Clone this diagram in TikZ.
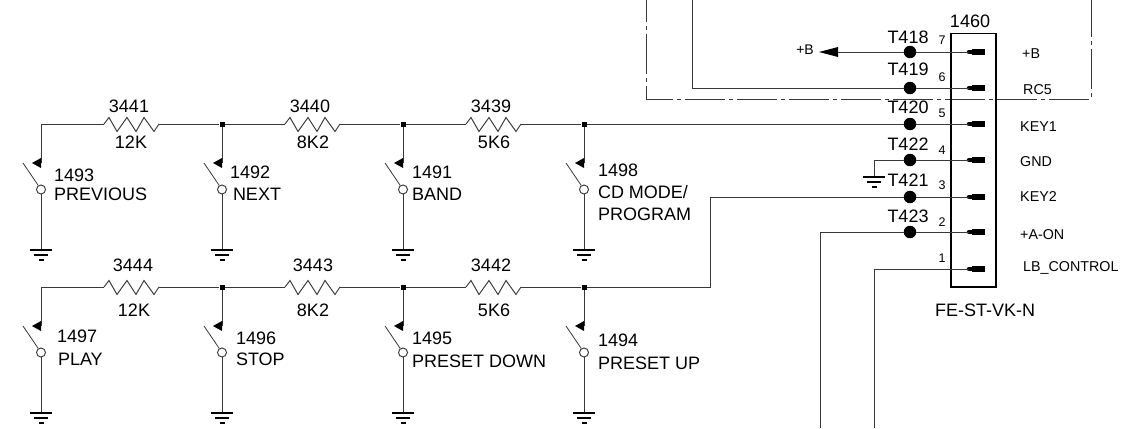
\documentclass[tikz,border=0pt]{standalone}
\usepackage{fontspec}
\setmainfont{Liberation Sans}
\usetikzlibrary{calc}
\tikzset{
  wire/.style={line width=0.95pt,draw=black!78},
  frame/.style={line width=0.95pt,draw=black!78,dash pattern=on 40pt off 4pt on 4pt off 4pt,dash phase=18pt},
  lbl/.style={inner sep=0pt,outer sep=0pt,text depth=0pt,font=\fontsize{18}{20}\selectfont},
  lblw/.style={lbl,anchor=west},
  pinno/.style={inner sep=0pt,text depth=0pt,font=\fontsize{12.5}{14}\selectfont},
  sig/.style={inner sep=0pt,text depth=0pt,anchor=west,font=\fontsize{14.3}{16}\selectfont},
  tp/.style={circle,fill=black,inner sep=0pt,minimum size=12.5pt},
  junc/.style={rectangle,fill=black,inner sep=0pt,minimum size=5pt},
  contact/.style={circle,draw=black!78,fill=white,line width=0.95pt,inner sep=0pt,minimum size=9pt},
  gndsym/.pic={
    \draw[line width=1.1pt] (-11,0) -- (11,0);
    \draw[line width=1.1pt] (-7,5) -- (7,5);
    \draw[line width=1.1pt] (-2.5,10) -- (2.5,10);
  },
  respath/.pic={
    \draw[wire] (0,0) -- (5,-6.5) -- (13,7.5) -- (23,-6.5) -- (32,7.5) -- (40,-6.5) -- (50,7.5) -- (55,0);
  }
}
\begin{document}
\begin{tikzpicture}[x=1pt,y=-1pt]
\useasboundingbox (0,0) rectangle (1134,428);

% outer dash-dot frame
\coordinate (fa) at (646,0);
\coordinate (fb) at (646,99);
\coordinate (fc) at (1091,99);
\coordinate (fd) at (1091,0);
\draw[frame] (fa) -- (fb) -- (fc) -- (fd);

% connector body
\node[draw=black,line width=1.5pt,inner sep=0pt,minimum width=45pt,minimum height=253.5pt] (conn) at (973.5,160.3) {};
\node[lbl] (n1460) at (970,21) {1460};
\node[lbl] (nfe) at (985,310) {FE-ST-VK-N};

% test points and pads
\foreach \nm/\yy in {a/52,b/88,c/124,d/160,e/197,f/232,g/269}{
  \coordinate (pad\nm) at (969,\yy);
  \draw[line width=4.5pt,line cap=round] (pad\nm) -- ++(5,0);
  \draw[line width=6.5pt] ($(pad\nm)+(3,0)$) -- ($(pad\nm)+(16,0)$);
}
\foreach \nm/\yy in {a/52,b/88,c/124,d/160,e/197,f/232}{
  \node[tp] (tp\nm) at (910,\yy) {};
  \draw[wire] (tp\nm) -- (pad\nm);
}
\node[lbl] (t418) at (908,37) {T418};
\node[lbl] (t419) at (908,69) {T419};
\node[lbl] (t420) at (908,107) {T420};
\node[lbl] (t422) at (908,144) {T422};
\node[lbl] (t421) at (908,180) {T421};
\node[lbl] (t423) at (908,216) {T423};

\node[pinno] (p7) at (942,40) {7};
\node[pinno] (p6) at (942,77) {6};
\node[pinno] (p5) at (942,113) {5};
\node[pinno] (p4) at (942,150) {4};
\node[pinno] (p3) at (942,185) {3};
\node[pinno] (p2) at (942,222) {2};
\node[pinno] (p1) at (942,258) {1};

\node[sig] (s7) at (1022,54) {+B};
\node[sig] (s6) at (1023,90) {RC5};
\node[sig] (s5) at (1020,127) {KEY1};
\node[sig] (s4) at (1020,162) {GND};
\node[sig] (s3) at (1020,197) {KEY2};
\node[sig] (s2) at (1020,235) {+A-ON};
\node[sig] (s1) at (1023,267) {LB\_CONTROL};

% +B flag
\node[pinno,font=\fontsize{14}{15}\selectfont] (bflag) at (805,50) {+B};
\coordinate (btip) at (819,52);
\draw[wire] (tpa) -- (838,52);
\fill (btip) -- (838,47) -- (838,57) -- cycle;

% RC5
\coordinate (rctop) at (692,0);
\draw[wire] (tpb) -| (rctop);

% GND on T422
\coordinate (g422) at (874,177);
\draw[wire] (tpd) -| (g422);
\pic at (g422) {gndsym};

% lower wires
\coordinate (aon) at (820,428);
\coordinate (lbc) at (874,428);
\draw[wire] (tpf) -| (aon);
\draw[wire] (padg) -| (lbc);

% ladders
\foreach \r/\yy in {t/124,b/287}{
  \foreach \i/\xx in {1/41,2/222,3/403,4/584}{
    \ifnum\i=1 \coordinate (j\r\i) at (\xx,\yy);
    \else \node[junc] (j\r\i) at (\xx,\yy) {};\fi
    % switch
    \coordinate (arr\r\i) at (\xx,\yy+39);
    \draw[wire] (j\r\i) -- (arr\r\i);
    \fill (\xx-9,\yy+39) -- (\xx,\yy+34) -- (\xx,\yy+44) -- cycle;
    \node[contact] (c\r\i) at (\xx,\yy+65.5) {};
    \coordinate (lev\r\i) at (\xx-18,\yy+39);
    \draw[wire,line width=0.8pt] (lev\r\i) -- (c\r\i);
    \coordinate (g\r\i) at (\xx,\yy+126);
    \draw[wire] (c\r\i) -- (g\r\i);
    \pic at (g\r\i) {gndsym};
  }
  \foreach \i/\k/\xx in {1/2/104,2/3/285,3/4/466}{
    \coordinate (ra\r\i) at (\xx,\yy);
    \coordinate (rb\r\i) at (\xx+55,\yy);
    \pic[wire] at (ra\r\i) {respath};
    \draw[wire] (j\r\i) -- (ra\r\i);
    \draw[wire] (rb\r\i) -- (j\r\k);
  }
}
\draw[wire] (jt4) -- (tpc);
\coordinate (kb) at (710,197);
\draw[wire] (jb4) -| (kb) -- (tpe);

% resistor labels
\node[lbl] (r3441) at (129,106) {3441};
\node[lbl] (v3441) at (131,142) {12K};
\node[lbl] (r3440) at (310,106) {3440};
\node[lbl] (v3440) at (313,142) {8K2};
\node[lbl] (r3439) at (491,106) {3439};
\node[lbl] (v3439) at (494,142) {5K6};
\node[lbl] (r3444) at (133,265) {3444};
\node[lbl] (v3444) at (134,310) {12K};
\node[lbl] (r3443) at (313,265) {3443};
\node[lbl] (v3443) at (313,310) {8K2};
\node[lbl] (r3442) at (491,265) {3442};
\node[lbl] (v3442) at (494,310) {5K6};

% switch labels
\node[lblw] (l1493) at (54,175) {1493};
\node[lblw] (m1493) at (54,194) {PREVIOUS};
\node[lblw] (l1492) at (230,172) {1492};
\node[lblw] (m1492) at (233,194) {NEXT};
\node[lblw] (l1491) at (412,172) {1491};
\node[lblw] (m1491) at (412,194) {BAND};
\node[lblw] (l1498) at (598,170) {1498};
\node[lblw] (m1498) at (598,192) {CD MODE/};
\node[lblw] (n1498) at (598,214) {PROGRAM};
\node[lblw] (l1497) at (57,336) {1497};
\node[lblw] (m1497) at (58,359) {PLAY};
\node[lblw] (l1496) at (236,338) {1496};
\node[lblw] (m1496) at (236,359) {STOP};
\node[lblw] (l1495) at (412,338) {1495};
\node[lblw] (m1495) at (412,361) {PRESET DOWN};
\node[lblw] (l1494) at (598,340) {1494};
\node[lblw] (m1494) at (598,363) {PRESET UP};
\end{tikzpicture}
\end{document}
